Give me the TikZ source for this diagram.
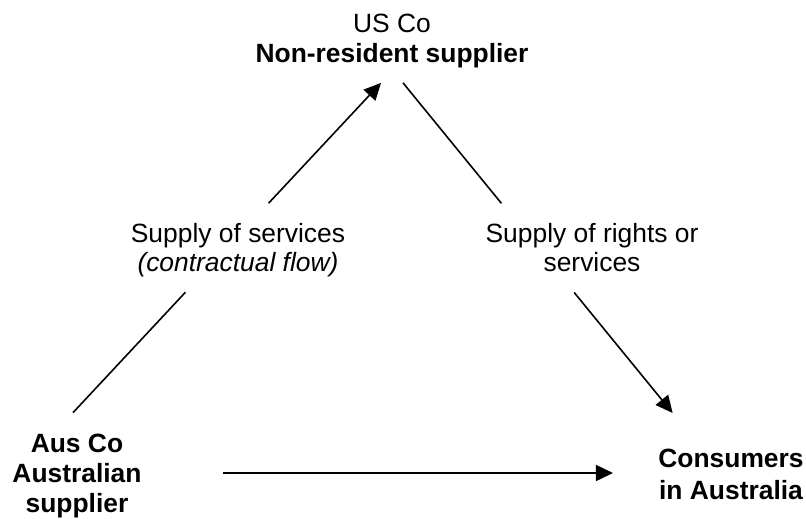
\documentclass[tikz,border=0pt]{standalone}
\usepackage{fontspec}
\setmainfont{Liberation Sans}
\usetikzlibrary{arrows.meta, calc}
\tikzset{mynode/.style={align=center, inner sep=0pt, font=\fontsize{13.2}{15}\selectfont\bfseries},
         mylabel/.style={align=center, inner sep=0pt, font=\fontsize{13.2}{14.5}\selectfont},
         myline/.style={line width=0.8pt},
         myedge/.style={line width=0.8pt, -{Triangle[length=8.5pt, width=8pt]}}}

\begin{document}
\begin{tikzpicture}[x=0.5pt, y=-0.5pt]
    \useasboundingbox (0,0) rectangle (806,518);
    \node[mynode] (US) at (392, 41)       {\textmd{US Co}\\Non-resident supplier};
    \node[mynode] (AUS) at (77, 476)      {Aus Co\\Australian\\supplier};
    \node[mynode, font=\fontsize{13.2}{16}\selectfont\bfseries] (CON) at (731, 474.5) {Consumers\\in Australia};
    \node[mylabel] (SL) at (238, 250.4)   {Supply of services\\\textit{(contractual flow)}};
    \node[mylabel] (SR) at (592, 247.6)   {Supply of rights or\\services};

    \coordinate (AUSout) at ([shift={(-4,-21)}]AUS.north);
    \coordinate (USin)   at ([shift={(-11,14.5)}]US.south);
    \coordinate (USout)  at ([shift={(11,14.5)}]US.south);
    \coordinate (CONin)  at ([shift={(14.6,-35.8)}]CON.north west);

    \draw[myline] (AUSout) -- ($(AUSout)!.365!(USin)$);
    \draw[myedge] ($(AUSout)!.635!(USin)$) -- (USin);
    \draw[myline] (USout) -- ($(USout)!.365!(CONin)$);
    \draw[myedge] ($(USout)!.635!(CONin)$) -- (CONin);
    \draw[myedge] ([shift={(81,-3)}]AUS.east) -- ([shift={(-45,-1.5)}]CON.west);
\end{tikzpicture}
\end{document}
